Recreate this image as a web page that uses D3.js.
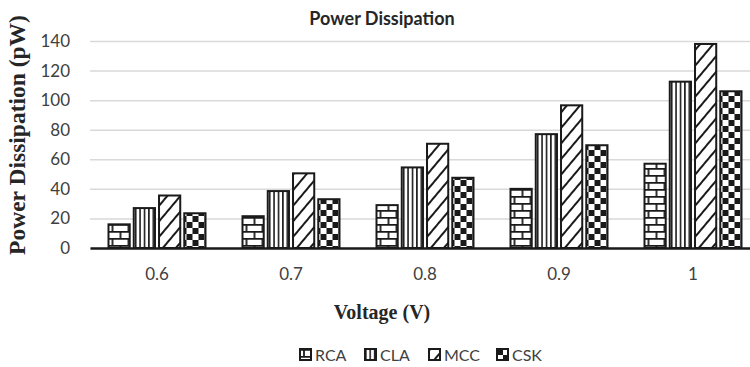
<!DOCTYPE html>
<html>
<head>
<meta charset="utf-8">
<script src="https://cdn.jsdelivr.net/npm/d3@7/dist/d3.min.js"></script>
<style>
  html, body { margin: 0; padding: 0; background: #fff; }
  svg { display: block; }
</style>
</head>
<body>
<svg id="chart" width="750" height="367"></svg>
<script>
// Power dissipation (pW) of four adder designs across supply voltages
const voltages = ["0.6", "0.7", "0.8", "0.9", "1"];
const seriesNames = ["RCA", "CLA", "MCC", "CSK"];
const rca = [16, 21.5, 29, 40, 57];
const cla = [27, 38.5, 54.5, 77, 112.5];
const mcc = [35.5, 50.5, 70.5, 96.5, 138];
const csk = [23.5, 33, 47.5, 69.5, 106];
const yTicks = [0, 20, 40, 60, 80, 100, 120, 140];

const seriesValues = [rca, cla, mcc, csk];
const svg = d3.select("#chart");
const W = 750, H = 367;
const margin = { left: 90, right: -10, top: 41, bottom: 119 };
const sans = "Lato, 'Open Sans', sans-serif";
const serif = "'Liberation Serif', 'Times New Roman', serif";

const x0 = d3.scaleBand().domain(voltages).range([margin.left, W - margin.right]).paddingInner(0).paddingOuter(0);
const x1 = d3.scaleBand().domain(seriesNames).range([0, 97]).paddingInner(0.16).paddingOuter(0);
const y = d3.scaleLinear().domain([0, 140]).range([H - margin.bottom, margin.top]);

// fill patterns for each series
const defs = svg.append("defs");

// RCA: brick
const brick = defs.append("pattern").attr("id", "pat-RCA").attr("patternUnits", "userSpaceOnUse")
  .attr("width", 16).attr("height", 14).attr("x", 0).attr("y", 0);
brick.append("rect").attr("width", 16).attr("height", 14).attr("fill", "#fff");
brick.append("path").attr("d", "M0,0.9H16M0,7.9H16M4,0V7M12,7V14")
  .attr("stroke", "#1a1a1a").attr("stroke-width", 1.8).attr("fill", "none");

// CLA: vertical lines
const vert = defs.append("pattern").attr("id", "pat-CLA").attr("patternUnits", "userSpaceOnUse")
  .attr("width", 4.4).attr("height", 10);
vert.append("rect").attr("width", 4.4).attr("height", 10).attr("fill", "#fff");
vert.append("rect").attr("x", 0).attr("width", 1.6).attr("height", 10).attr("fill", "#1a1a1a");

// MCC: wide upward diagonal
const diag = defs.append("pattern").attr("id", "pat-MCC").attr("patternUnits", "userSpaceOnUse")
  .attr("width", 10).attr("height", 10).attr("patternTransform", "rotate(40)");
diag.append("rect").attr("width", 10).attr("height", 10).attr("fill", "#fff");
diag.append("rect").attr("x", 0).attr("width", 2).attr("height", 10).attr("fill", "#1a1a1a");

// CSK: checkerboard
const chk = defs.append("pattern").attr("id", "pat-CSK").attr("patternUnits", "userSpaceOnUse")
  .attr("width", 12).attr("height", 12);
chk.append("rect").attr("width", 12).attr("height", 12).attr("fill", "#fff");
chk.append("rect").attr("width", 6).attr("height", 6).attr("fill", "#1a1a1a");
chk.append("rect").attr("x", 6).attr("y", 6).attr("width", 6).attr("height", 6).attr("fill", "#1a1a1a");

// gridlines
const yAxis = d3.axisLeft(y).tickValues(yTicks).tickSize(-(W - margin.right - margin.left)).tickPadding(20);
const gy = svg.append("g").attr("transform", `translate(${margin.left},0)`).call(yAxis);
gy.select(".domain").remove();
gy.selectAll(".tick line").attr("stroke", "#d9d9d9").attr("stroke-width", 1.5);
gy.selectAll(".tick text").attr("font-family", sans).attr("font-size", 17).attr("fill", "#404040");

// bars
const groups = svg.append("g").selectAll("g").data(voltages).join("g")
  .attr("transform", d => `translate(${x0(d) + x0.bandwidth() / 2 - 48.5},0)`);
groups.selectAll("rect").data((v, i) => seriesNames.map((s, j) => ({ s, val: seriesValues[j][i] })))
  .join("rect")
  .attr("x", d => x1(d.s))
  .attr("width", x1.bandwidth())
  .attr("y", d => y(d.val))
  .attr("height", d => y(0) - y(d.val))
  .attr("fill", d => `url(#pat-${d.s})`)
  .attr("stroke", "#1a1a1a").attr("stroke-width", 2);

// x axis
const xAxis = d3.axisBottom(x0).tickSize(0).tickPadding(20);
const gx = svg.append("g").attr("transform", `translate(0,${y(0)})`).call(xAxis);
gx.select(".domain").attr("stroke", "#1a1a1a").attr("stroke-width", 2.5);
gx.selectAll(".tick text").attr("font-family", sans).attr("font-size", 17).attr("fill", "#404040");

// titles
svg.append("text").attr("x", 382).attr("y", 25).attr("text-anchor", "middle")
  .attr("font-family", sans).attr("font-weight", "bold").attr("font-size", 18)
  .attr("fill", "#262626").text("Power Dissipation");
svg.append("text").attr("x", 382).attr("y", 319).attr("text-anchor", "middle")
  .attr("font-family", serif).attr("font-weight", "bold").attr("font-size", 20)
  .attr("fill", "#262626").text("Voltage (V)");
svg.append("text").attr("transform", "translate(25,135) rotate(-90)").attr("text-anchor", "middle")
  .attr("font-family", serif).attr("font-weight", "bold").attr("font-size", 23.5)
  .attr("fill", "#262626").text("Power Dissipation (pW)");

// legend
const legendX = [300, 365, 429, 497];
const lg = svg.append("g").selectAll("g").data(seriesNames).join("g")
  .attr("transform", (d, i) => `translate(${legendX[i]},349)`);
lg.append("rect").attr("width", 11).attr("height", 11)
  .attr("fill", d => `url(#pat-${d})`).attr("stroke", "#1a1a1a").attr("stroke-width", 2);
lg.append("text").attr("x", 15).attr("y", 11.5)
  .attr("font-family", sans).attr("font-size", 16).attr("fill", "#404040")
  .text(d => d);
</script>
</body>
</html>
